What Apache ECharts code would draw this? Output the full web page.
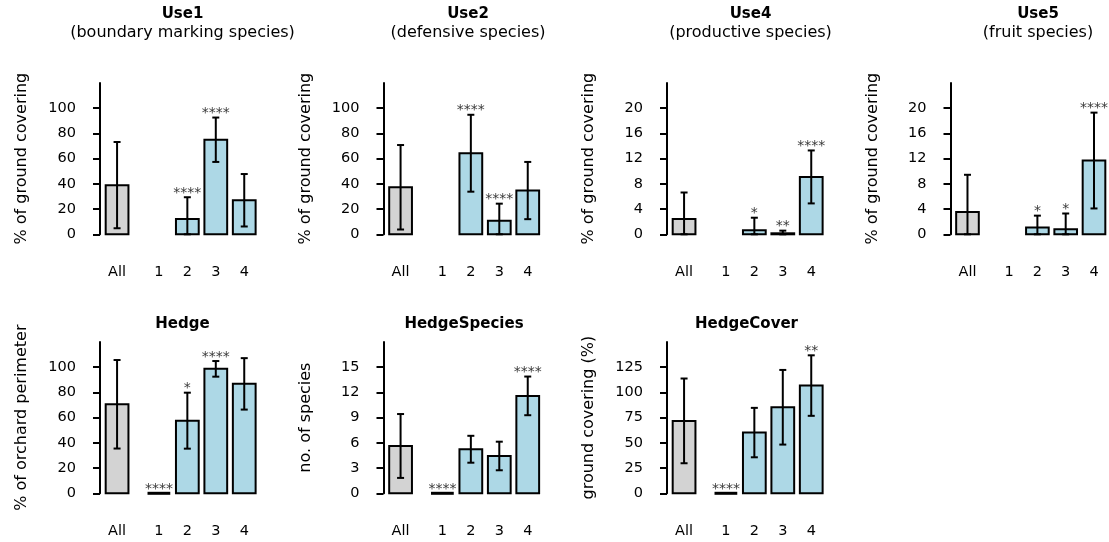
<!DOCTYPE html>
<html>
<head>
<meta charset="utf-8">
<script src="https://cdn.jsdelivr.net/npm/echarts@6/dist/echarts.min.js"></script>
<style>html,body{margin:0;padding:0;background:#fff}#c{width:1109px;height:542px}</style>
</head>
<body>
<div id="c"></div>
<script>
// ---------------- DATA ----------------
const categories = ['All', '1', '2', '3', '4'];
const panelTitles = ['Use1', 'Use2', 'Use4', 'Use5', 'Hedge', 'HedgeSpecies', 'HedgeCover'];
const panelSubtitles = ['(boundary marking species)', '(defensive species)', '(productive species)', '(fruit species)', '', '', ''];
const yAxisTitles = ['% of ground covering', '% of ground covering', '% of ground covering', '% of ground covering',
                     '% of orchard perimeter', 'no. of species', 'ground covering (%)'];
const yAxisMax = [120, 120, 24, 24, 120, 18, 150];
const yAxisStep = [20, 20, 4, 4, 20, 3, 25];

const use1Mean = [39, null, 12.2, 75, 27];
const use1Sd = [34.2, null, 17.2, 17.6, 20.8];
const use1Stars = ['', '', '****', '****', ''];

const use2Mean = [37.3, null, 64.3, 10.8, 34.7];
const use2Sd = [33.5, null, 30.5, 13.5, 22.7];
const use2Stars = ['', '', '****', '****', ''];

const use4Mean = [2.43, null, 0.63, 0.16, 9.1];
const use4Sd = [4.2, null, 2.0, 0.42, 4.2];
const use4Stars = ['', '', '*', '**', '****'];

const use5Mean = [3.54, null, 1.06, 0.8, 11.7];
const use5Sd = [5.9, null, 1.9, 2.5, 7.6];
const use5Stars = ['', '', '*', '*', '****'];

const hedgeMean = [70.6, 0, 57.6, 98.7, 86.8];
const hedgeSd = [35.1, 0, 22.2, 6.2, 20.4];
const hedgeStars = ['', '****', '*', '****', ''];

const hedgeSpeciesMean = [5.63, 0, 5.24, 4.44, 11.59];
const hedgeSpeciesSd = [3.8, 0, 1.6, 1.7, 2.3];
const hedgeSpeciesStars = ['', '****', '', '', '****'];

const hedgeCoverMean = [71.8, 0, 60.2, 85.3, 106.8];
const hedgeCoverSd = [42, 0, 24.5, 37, 30];
const hedgeCoverStars = ['', '****', '', '', '**'];

const panelMeans = [use1Mean, use2Mean, use4Mean, use5Mean, hedgeMean, hedgeSpeciesMean, hedgeCoverMean];
const panelSds = [use1Sd, use2Sd, use4Sd, use5Sd, hedgeSd, hedgeSpeciesSd, hedgeCoverSd];
const panelStars = [use1Stars, use2Stars, use4Stars, use5Stars, hedgeStars, hedgeSpeciesStars, hedgeCoverStars];

// ---------------- LAYOUT ----------------
const FONT = 'DejaVu Sans';
const COL_X = [100, 383.5, 667, 950.5];
const ROW_TOP = [83, 342];
const PLOT_H = 151.3;
const X_MIN = -0.6, X_MAX = 5.0, UNIT = 28.45;
const PLOT_W = (X_MAX - X_MIN) * UNIT;
const SLOT = [0, 1.47, 2.47, 3.47, 4.47];   // x position of each category on the value axis
const BAR_HALF = 0.4;
const TITLE_X = [182.5, 468, 750.5, 1038, 182.5, 464, 746.5];
const TITLE_TOP = [5.5, 5.5, 5.5, 5.5, 315.3, 315.3, 315.3];
const COLORS = ['#d3d3d3', '#add8e6'];

const grids = [], xAxes = [], yAxes = [], series = [], titles = [];

panelTitles.forEach((t, i) => {
  const row = i < 4 ? 0 : 1;
  const col = i < 4 ? i : i - 4;
  grids.push({ left: COL_X[col], top: ROW_TOP[row], width: PLOT_W, height: PLOT_H, containLabel: false });
  xAxes.push({
    gridIndex: i, type: 'value', min: X_MIN, max: X_MAX,
    axisLine: { show: false }, axisTick: { show: false }, splitLine: { show: false },
    axisLabel: {
      customValues: SLOT.slice(),
      margin: 30,
      fontFamily: FONT, fontSize: 14.5, color: '#000',
      formatter: v => {
        const k = SLOT.findIndex(s => Math.abs(s - v) < 1e-6);
        return k >= 0 ? categories[k] : '';
      }
    }
  });
  yAxes.push({
    gridIndex: i, type: 'value', min: 0, max: yAxisMax[i], interval: yAxisStep[i],
    name: yAxisTitles[i], nameLocation: 'middle', nameRotate: 90, nameGap: 70,
    nameTextStyle: { fontFamily: FONT, fontSize: 16, color: '#000', lineHeight: 16 },
    axisLine: { show: true, onZero: false, lineStyle: { color: '#000', width: 2 } },
    axisTick: { show: true, length: 7, lineStyle: { color: '#000', width: 2 } },
    splitLine: { show: false },
    axisLabel: { showMaxLabel: false, margin: 24, fontFamily: FONT, fontSize: 14.5, color: '#000' }
  });
  titles.push({
    text: t, subtext: panelSubtitles[i],
    left: TITLE_X[i], top: TITLE_TOP[i], textAlign: 'center', padding: 0, itemGap: 0,
    textStyle: { fontFamily: FONT, fontSize: 15, fontWeight: 'bold', color: '#000', lineHeight: 18 },
    subtextStyle: { fontFamily: FONT, fontSize: 16, color: '#000', lineHeight: 18 }
  });

  const means = panelMeans[i], sds = panelSds[i], stars = panelStars[i];
  const data = [];
  means.forEach((m, k) => { if (m !== null) data.push([SLOT[k], m, k]); });

  series.push({
    type: 'custom', xAxisIndex: i, yAxisIndex: i, data: data,
    renderItem: (params, api) => {
      const x = api.value(0), m = api.value(1), k = api.value(2);
      const s = sds[k] || 0;
      const children = [];
      const tl = api.coord([x - BAR_HALF, m]);
      const br = api.coord([x + BAR_HALF, 0]);
      if (m > 0) {
        children.push({ type: 'rect',
          shape: { x: tl[0], y: tl[1], width: br[0] - tl[0], height: br[1] - tl[1] },
          style: { fill: COLORS[k === 0 ? 0 : 1], stroke: '#000', lineWidth: 2 } });
      } else {
        children.push({ type: 'line',
          shape: { x1: tl[0], y1: br[1], x2: br[0], y2: br[1] },
          style: { stroke: '#000', lineWidth: 3 } });
      }
      let topY = tl[1];
      if (s > 0) {
        const pHi = api.coord([x, m + s]);
        const pLo = api.coord([x, Math.max(0, m - s)]);
        topY = pHi[1];
        const st = { stroke: '#000', lineWidth: 2 };
        children.push({ type: 'line', shape: { x1: pHi[0], y1: pHi[1], x2: pLo[0], y2: pLo[1] }, style: st });
        children.push({ type: 'line', shape: { x1: pHi[0] - 3.5, y1: pHi[1], x2: pHi[0] + 3.5, y2: pHi[1] }, style: st });
        children.push({ type: 'line', shape: { x1: pLo[0] - 3.5, y1: pLo[1], x2: pLo[0] + 3.5, y2: pLo[1] }, style: st });
      }
      if (stars[k]) {
        children.push({ type: 'text',
          style: { x: tl[0] + (br[0] - tl[0]) / 2, y: topY - 4, text: stars[k],
                   fill: '#3a3a3a', font: '14px "DejaVu Sans"', align: 'center', verticalAlign: 'middle' } });
      }
      return { type: 'group', children: children };
    }
  });
});

const chart = echarts.init(document.getElementById('c'));
chart.setOption({
  backgroundColor: '#fff',
  animation: false,
  textStyle: { fontFamily: FONT },
  title: titles,
  grid: grids,
  xAxis: xAxes,
  yAxis: yAxes,
  series: series
});
</script>
</body>
</html>
